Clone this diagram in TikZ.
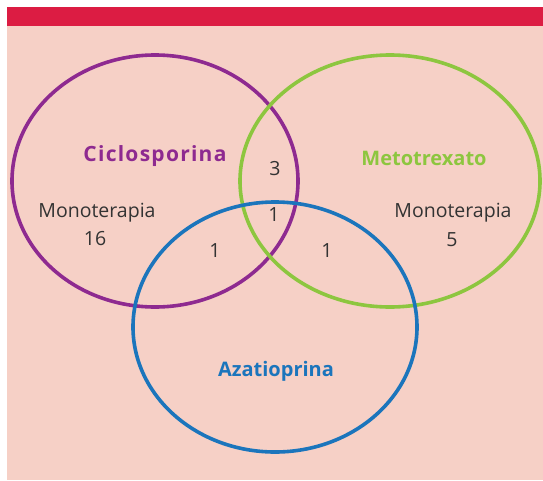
\documentclass[tikz,border=0pt]{standalone}
\usepackage{fontspec}
\setmainfont{Open Sans}
\newfontfamily\widebold[LetterSpace=6]{Open Sans}
\definecolor{barred}{HTML}{DC1C43}
\definecolor{bgpink}{HTML}{F6D0C6}
\definecolor{vpurple}{HTML}{8E2A90}
\definecolor{vgreen}{HTML}{8DC63F}
\definecolor{vblue}{HTML}{1B75BC}
\definecolor{txt}{HTML}{333333}
\begin{document}
\begin{tikzpicture}[x=1pt,y=-1pt,
  ring/.style={line width=3.6pt},
  setlabel/.style={font=\fontsize{20}{22}\selectfont\bfseries},
  widelabel/.style={font=\widebold\fontsize{21}{23}\selectfont\bfseries},
  count/.style={font=\fontsize{19.5}{21}\selectfont, text=txt, align=center}]
\useasboundingbox (0,0) rectangle (543,480);
\fill[white] (0,0) rectangle (543,480);
\fill[bgpink] (7,26) rectangle (543,480);
\fill[barred] (7,7) rectangle (543,26);
\draw[ring, vpurple] (155,181) ellipse [x radius=143, y radius=126];
\draw[ring, vgreen] (390,181) ellipse [x radius=150, y radius=126];
\draw[ring, vblue] (275,327) ellipse [x radius=142, y radius=125];
\node[widelabel, text=vpurple] (cic) at (155,156) {Ciclosporina};
\node[setlabel, text=vgreen] (met) at (424,158) {Metotrexato};
\node[setlabel, text=vblue] (aza) at (276,371) {Azatioprina};
\node[count] (monoL) at (97,213) {Monoterapia};
\node[count] (n16) at (95,239) {16};
\node[count] (monoR) at (453,213) {Monoterapia};
\node[count] (n5) at (452,240) {5};
\node[count] (n3) at (275,169) {3};
\node[count] (n1c) at (274,215) {1};
\node[count] (n1l) at (215,251) {1};
\node[count] (n1r) at (327,251) {1};
\end{tikzpicture}
\end{document}
